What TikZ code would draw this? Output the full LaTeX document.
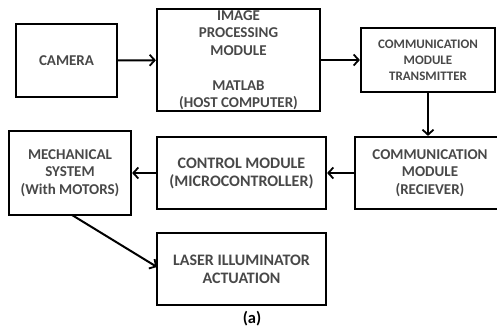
\documentclass[tikz,border=0pt]{standalone}
\usepackage{fontspec}
\setmainfont{Carlito}
\usepackage{xcolor}
\usepackage{tikz}
\usetikzlibrary{arrows.meta}

\definecolor{labelgray}{HTML}{484848}

\begin{document}
\begin{tikzpicture}[x=1pt,y=-1pt,
    block/.style={draw=black,line width=2.2pt,text=labelgray,font=\bfseries\fontsize{15}{17.5}\selectfont,align=center,inner sep=0pt},
    wide/.style={font=\bfseries\fontsize{16}{18}\selectfont},
    flow/.style={line width=2pt,-{Straight Barb[length=5pt,width=11pt,line width=1.8pt]}}]
\useasboundingbox (0,0) rectangle (497,329);
\clip (0,0) rectangle (497,329);

% top row
\node[block,minimum width=101pt,minimum height=73pt] (camera) at (66.5,60.5) {CAMERA};
\node[block,minimum width=163pt,minimum height=102pt] (imgproc) at (238.5,60) {IMAGE\\PROCESSING\\MODULE\\[17.5pt]MATLAB\\(HOST COMPUTER)};
\node[block,minimum width=134pt,minimum height=64pt,font=\bfseries\fontsize{13}{16}\selectfont] (trans) at (428,60) {COMMUNICATION\\MODULE\\TRANSMITTER};

% middle row
\node[block,minimum width=150pt,minimum height=72pt] (recv) at (430,173) {COMMUNICATION\\MODULE\\(RECIEVER)};
\node[block,wide,minimum width=169pt,minimum height=72pt] (ctrl) at (241.5,173) {CONTROL MODULE\\(MICROCONTROLLER)};
\node[block,minimum width=122pt,minimum height=84pt] (mech) at (70,173) {MECHANICAL\\SYSTEM\\(With MOTORS)};

% bottom row
\node[block,wide,minimum width=169pt,minimum height=72pt] (laser) at (241.5,269) {LASER ILLUMINATOR\\ACTUATION};

\coordinate (mechout) at (72,215);
\coordinate (laserin) at (157,267);

\draw[flow] (camera) -- (imgproc);
\draw[flow] (imgproc) -- (trans);
\draw[flow] (trans.south) -- (trans.south |- recv.north);
\draw[flow] (recv) -- (ctrl);
\draw[flow] (ctrl) -- (mech);
\draw[flow] (mechout) -- (laserin);

\node[font=\bfseries\fontsize{16.5}{18}\selectfont] (caption) at (252,319) {(a)};
\end{tikzpicture}
\end{document}
